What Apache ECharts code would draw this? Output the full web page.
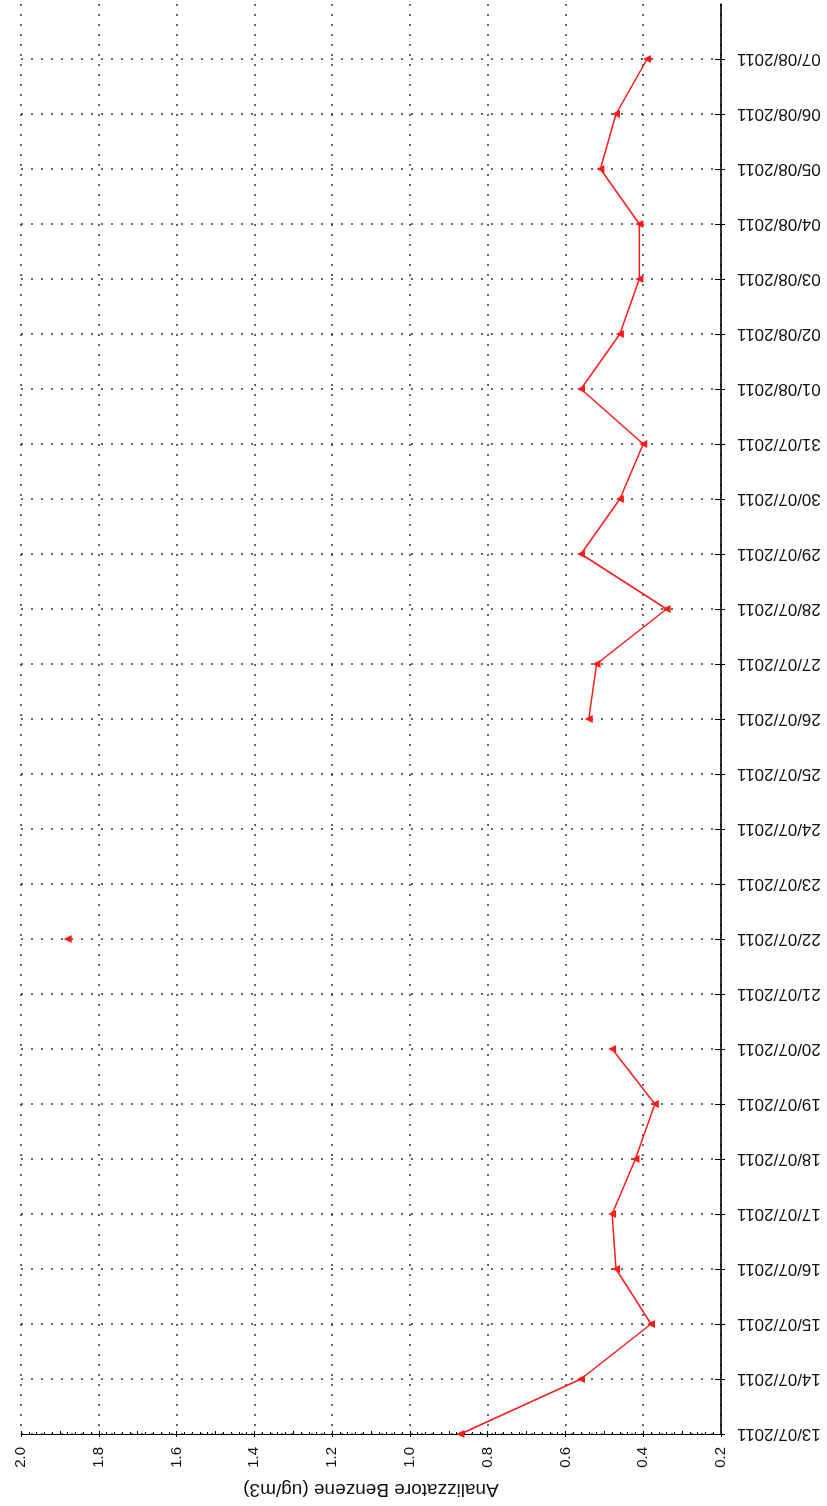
<!DOCTYPE html>
<html>
<head>
<meta charset="utf-8">
<title>Analizzatore Benzene</title>
<script src="https://cdn.jsdelivr.net/npm/echarts/dist/echarts.min.js"></script>
<style>
  html, body { margin: 0; padding: 0; background: #fff; }
  #chart { width: 827px; height: 1506px; }
</style>
</head>
<body>
<div id="chart"></div>
<script>
// giorni (dal basso verso l'alto)
var dates = [
  '13/07/2011', '14/07/2011', '15/07/2011', '16/07/2011', '17/07/2011', '18/07/2011',
  '19/07/2011', '20/07/2011', '21/07/2011', '22/07/2011', '23/07/2011', '24/07/2011',
  '25/07/2011', '26/07/2011', '27/07/2011', '28/07/2011', '29/07/2011', '30/07/2011',
  '31/07/2011', '01/08/2011', '02/08/2011', '03/08/2011', '04/08/2011', '05/08/2011',
  '06/08/2011', '07/08/2011'
];
// benzene ug/m3, '-' = dato mancante
var benzene = [
  0.87, 0.56, 0.38, 0.47, 0.48, 0.42,
  0.37, 0.48, '-', 1.88, '-', '-',
  '-', 0.54, 0.52, 0.34, 0.56, 0.46,
  0.40, 0.56, 0.46, 0.41, 0.41, 0.51,
  0.47, 0.39
];
var valueMin = 0.2;
var valueMax = 2.0;
var valueStep = 0.2;
var axisTitle = 'Analizzatore Benzene (ug/m3)';

// una categoria vuota in cima per lo spazio sopra l'ultimo giorno
var cats = dates.concat(['']);
var isDay = function (idx, val) { return val !== ''; };
var font = '"Liberation Sans", Arial, sans-serif';

var chart = echarts.init(document.getElementById('chart'));
chart.setOption({
  animation: false,
  backgroundColor: '#fff',
  grid: { left: 21, right: 106, top: 4, bottom: 72 },
  xAxis: [{
    type: 'value',
    inverse: true,
    position: 'bottom',
    min: valueMin,
    max: valueMax,
    interval: valueStep,
    name: axisTitle,
    nameLocation: 'middle',
    nameRotate: 180,
    nameGap: 46,
    nameTextStyle: { fontFamily: font, fontSize: 19, color: '#111' },
    axisLine: { show: true, lineStyle: { color: '#000', width: 1.2 } },
    axisTick: { show: true, length: 3, lineStyle: { color: '#000' } },
    axisLabel: {
      rotate: 90,
      margin: 13,
      fontFamily: font,
      fontSize: 15,
      color: '#111',
      formatter: function (v) { return v.toFixed(1); }
    },
    splitLine: { show: true, lineStyle: { color: '#333', width: 1.5, type: [2, 8] } }
  }, {
    // tacche intermedie
    type: 'value',
    inverse: true,
    position: 'bottom',
    min: valueMin,
    max: valueMax,
    interval: valueStep / 2,
    axisLine: { show: false },
    axisTick: { show: true, inside: true, length: 3, lineStyle: { color: '#000' } },
    minorTick: { show: true, splitNumber: 5, length: 2, lineStyle: { color: '#000' } },
    axisLabel: { show: false },
    splitLine: { show: false }
  }],
  yAxis: [{
    type: 'category',
    position: 'right',
    boundaryGap: false,
    data: cats,
    axisLine: { show: true, lineStyle: { color: '#000', width: 1.6 } },
    axisTick: { show: true, length: 4, interval: isDay, lineStyle: { color: '#000' } },
    axisLabel: {
      rotate: 180,
      margin: 16,
      interval: isDay,
      fontFamily: font,
      fontSize: 17,
      color: '#111'
    },
    splitLine: { show: true, interval: isDay, lineStyle: { color: '#333', width: 1.5, type: [2, 8] } }
  }, {
    type: 'category',
    position: 'right',
    boundaryGap: false,
    data: cats,
    axisLine: { show: false },
    axisTick: { show: true, inside: true, length: 6, interval: isDay, lineStyle: { color: '#000' } },
    axisLabel: { show: false },
    splitLine: { show: false }
  }],
  series: [{
    name: 'Benzene',
    type: 'line',
    xAxisIndex: 0,
    yAxisIndex: 0,
    data: benzene,
    connectNulls: false,
    showAllSymbol: true,
    symbol: 'triangle',
    symbolRotate: 90,
    symbolSize: 8,
    itemStyle: { color: '#ff1a1a' },
    lineStyle: { color: '#ff1a1a', width: 1.5 }
  }]
});
</script>
</body>
</html>
